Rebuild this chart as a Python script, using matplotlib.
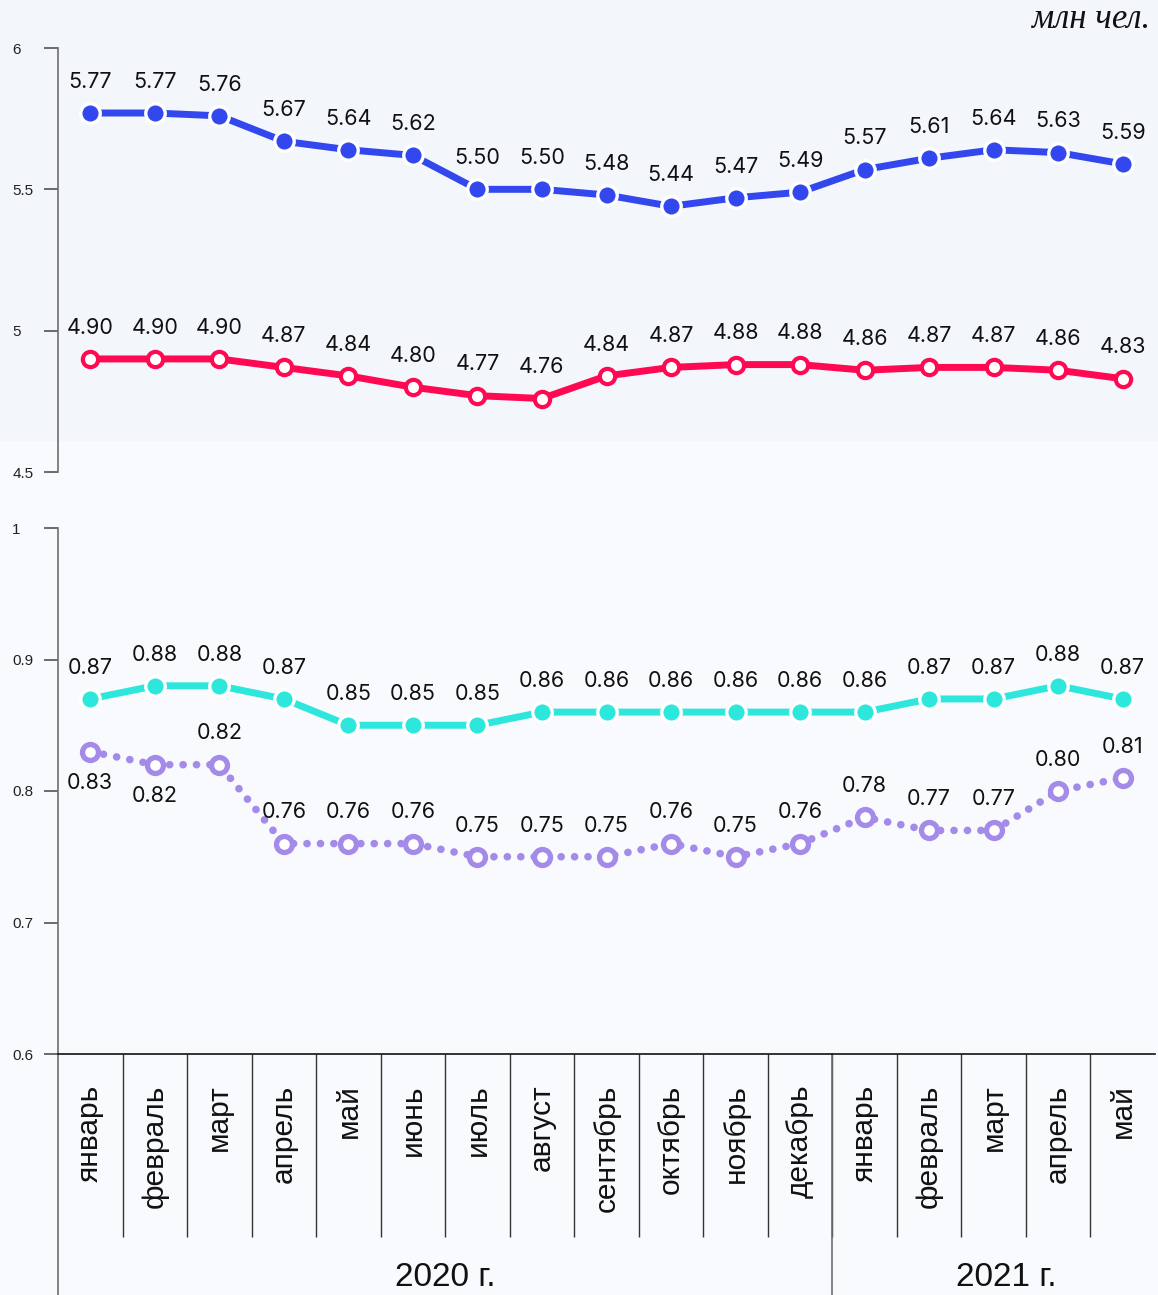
import numpy as np
import matplotlib.pyplot as plt
from matplotlib.patches import Rectangle
import matplotlib.transforms as mtransforms

# data
months = ['январь', 'февраль', 'март', 'апрель', 'май', 'июнь', 'июль', 'август',
          'сентябрь', 'октябрь', 'ноябрь', 'декабрь',
          'январь', 'февраль', 'март', 'апрель', 'май']
years = ['2020 г.', '2021 г.']

blue_vals = [5.77, 5.77, 5.76, 5.67, 5.64, 5.62, 5.50, 5.50, 5.48, 5.44, 5.47, 5.49,
             5.57, 5.61, 5.64, 5.63, 5.59]
red_vals = [4.90, 4.90, 4.90, 4.87, 4.84, 4.80, 4.77, 4.76, 4.84, 4.87, 4.88, 4.88,
            4.86, 4.87, 4.87, 4.86, 4.83]
cyan_vals = [0.87, 0.88, 0.88, 0.87, 0.85, 0.85, 0.85, 0.86, 0.86, 0.86, 0.86, 0.86,
             0.86, 0.87, 0.87, 0.88, 0.87]
purple_vals = [0.83, 0.82, 0.82, 0.76, 0.76, 0.76, 0.75, 0.75, 0.75, 0.76, 0.75, 0.76,
               0.78, 0.77, 0.77, 0.80, 0.81]

BLUE = '#3347ee'
RED = '#ff0a52'
CYAN = '#2de6dc'
PURPLE = '#a48be9'
SPINE = '#6e6e6e'

plt.rcParams['font.family'] = ['Liberation Sans', 'DejaVu Sans']

W_PX, H_PX = 1158, 1295
fig = plt.figure(figsize=(W_PX / 100, H_PX / 100), dpi=100)
fig.patch.set_facecolor('#f9fafd')
fig.add_artist(Rectangle((0, 1 - 440 / H_PX), 1, 440 / H_PX, transform=fig.transFigure,
                         color='#f3f6fb', zorder=0))

left = 58 / W_PX
width = (1155 - 58) / W_PX
ax1 = fig.add_axes([left, 1 - 472 / H_PX, width, 424 / H_PX])
ax2 = fig.add_axes([left, 1 - 1054 / H_PX, width, 526 / H_PX])

x = np.arange(len(months))

for ax in (ax1, ax2):
    ax.set_facecolor('none')
    ax.set_xlim(-0.5, len(months) - 0.5)
    for s in ('top', 'right'):
        ax.spines[s].set_visible(False)
    ax.spines['left'].set_color(SPINE)
    ax.spines['left'].set_linewidth(1.2)
    ax.tick_params(axis='y', length=10, width=1.1, color='#444', pad=23,
                   labelsize=11, labelcolor='#222')

# top panel
ax1.spines['bottom'].set_visible(False)
ax1.set_xticks([])
ax1.set_ylim(4.5, 6)
ax1.set_yticks([4.5, 5, 5.5, 6])
ax1.set_yticklabels(['4.5', '5', '5.5', '6'])

ax1.plot(x, blue_vals, color=BLUE, lw=5, marker='o', ms=14, mfc=BLUE, mec='white',
         mew=2.4, clip_on=False, zorder=3)
ax1.plot(x, red_vals, color=RED, lw=5, marker='o', ms=11, mfc='white', mec=RED,
         mew=3.0, clip_on=False, zorder=3)

# bottom panel
ax2.set_ylim(0.6, 1)
ax2.set_yticks([0.6, 0.7, 0.8, 0.9, 1])
ax2.set_yticklabels(['0.6', '0.7', '0.8', '0.9', '1'])
ax2.spines['bottom'].set_color('#111')
ax2.spines['bottom'].set_linewidth(1.2)

ax2.plot(x, cyan_vals, color=CYAN, lw=5, marker='o', ms=14, mfc=CYAN, mec='white',
         mew=2.4, clip_on=False, zorder=3)
ax2.plot(x, purple_vals, color=PURPLE, lw=5.5, linestyle=(0, (0.01, 1.75)),
         dash_capstyle='round', solid_capstyle='round', clip_on=False, zorder=3)
ax2.plot(x, purple_vals, linestyle='none', marker='o', ms=11.5, mfc='white', mec=PURPLE,
         mew=3.8, clip_on=False, zorder=4)

for ax in (ax1, ax2):
    for tl in ax.get_yticklabels():
        tl.set_ha('left')

# value labels
lab_kw = dict(textcoords='offset points', ha='center', va='center', fontsize=15.5,
              family=['Inter', 'DejaVu Sans'], color='#111', zorder=5)
for xi, v in zip(x, blue_vals):
    ax1.annotate(f'{v:.2f}', (xi, v), xytext=(0, 22.5), **lab_kw)
for xi, v in zip(x, red_vals):
    ax1.annotate(f'{v:.2f}', (xi, v), xytext=(0, 22.5), **lab_kw)
for xi, v in zip(x, cyan_vals):
    ax2.annotate(f'{v:.2f}', (xi, v), xytext=(0, 22.5), **lab_kw)
for i, (xi, v) in enumerate(zip(x, purple_vals)):
    dy = -22.5 if i < 2 else 22.5
    ax2.annotate(f'{v:.2f}', (xi, v), xytext=(0, dy), **lab_kw)

# category axis
ax2.set_xticks([])
ax2.set_xticks(np.arange(0.5, len(months) - 1, 1), minor=True)
ax2.tick_params(axis='x', which='minor', length=132, width=1, color='#333',
                direction='out')

trans = mtransforms.blended_transform_factory(ax2.transData, ax2.transAxes)
for xi, m in zip(x, months):
    ax2.text(xi, -0.058, m, rotation=90, ha='center', va='top', fontsize=21.5,
             transform=trans, color='#111')

# year separators and labels
for xs in (-0.5, 11.5):
    ax2.plot([xs, xs], [0, -0.46], transform=trans, color=SPINE, lw=1.2,
             clip_on=False)
ax2.text(5.5, -0.425, years[0], ha='center', va='center', fontsize=24,
         transform=trans, color='#111')
ax2.text(14.2, -0.425, years[1], ha='center', va='center', fontsize=24,
         transform=trans, color='#111')

fig.text(1150 / W_PX, 1 - 20 / H_PX, 'млн чел.', ha='right', va='center',
         fontsize=25, style='italic', family=['Liberation Serif', 'DejaVu Serif'],
         color='#111')

plt.savefig('out.png', dpi=100, facecolor=fig.get_facecolor())
